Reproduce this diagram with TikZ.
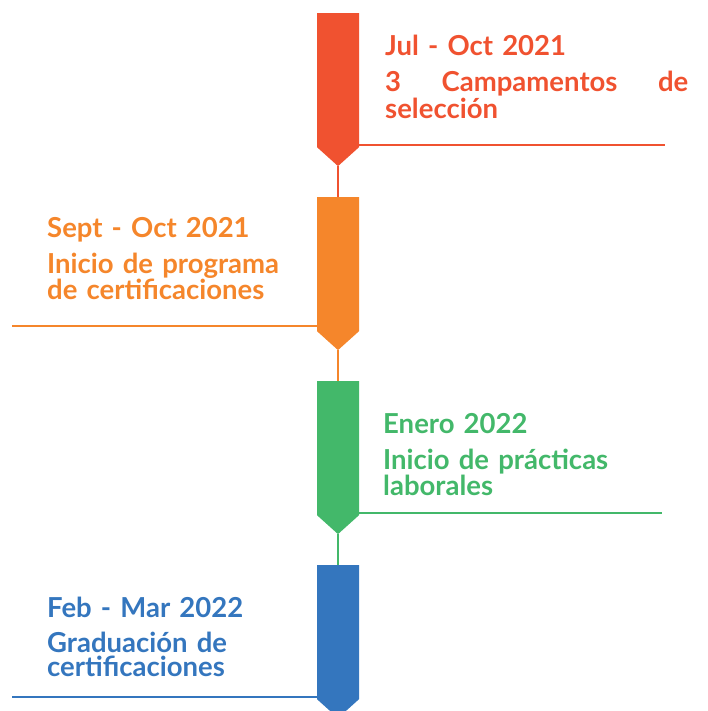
\documentclass[tikz,border=0pt]{standalone}
\usepackage{fontspec}
\setmainfont{Lato}
\usetikzlibrary{shapes.symbols}

\definecolor{tlred}{RGB}{240,82,48}
\definecolor{tlorange}{RGB}{245,134,43}
\definecolor{tlgreen}{RGB}{67,184,106}
\definecolor{tlblue}{RGB}{52,118,190}

\begin{document}
\begin{tikzpicture}[x=1pt, y=-1pt,
    block/.style={signal, signal to=south, signal pointer angle=96, draw=none,
                  minimum width=42pt, minimum height=134pt, inner sep=0pt, anchor=north},
    label/.style={anchor=base west, inner sep=0pt, font=\bfseries\fontsize{27.5}{24}\selectfont, align=left, text width=310pt},
    rule/.style={line width=2.6pt}]
    \useasboundingbox (0,0) rectangle (707,711);
    \clip (0,0) rectangle (707,711);

    \node[block, fill=tlred] (b1) at (338,13) {};
    \node[block, fill=tlorange] (b2) at (338,197) {};
    \node[block, fill=tlgreen] (b3) at (338,381) {};
    \node[block, fill=tlblue] (b4) at (338,565) {};

    \path[rule] (b1) edge[tlred] (b2)
                (b2) edge[tlorange] (b3)
                (b3) edge[tlgreen] (b4);

    \coordinate (e1) at (665,145);
    \coordinate (e2) at (12,326);
    \coordinate (e3) at (662,513);
    \coordinate (e4) at (12,697);
    \draw[rule, tlred] (e1 -| b1.east) -- (e1);
    \draw[rule, tlorange] (e2 -| b2.west) -- (e2);
    \draw[rule, tlgreen] (e3 -| b3.east) -- (e3);
    \draw[rule, tlblue] (e4 -| b4.west) -- (e4);

    \node[label, tlred] (d1) at (385,56) {Jul - Oct 2021};
    \node[label, tlred, text width=303pt] (t1) at (385,92) {3\hfill Campamentos\hfill de\\selección};
    \node[label, tlorange] (d2) at (47,237) {Sept - Oct 2021};
    \node[label, tlorange] (t2) at (47,273) {Inicio de programa\\de certificaciones};
    \node[label, tlgreen] (d3) at (383,433) {Enero 2022};
    \node[label, tlgreen] (t3) at (383,469) {Inicio de prácticas\\laborales};
    \node[label, tlblue] (d4) at (47,617) {Feb - Mar 2022};
    \node[label, tlblue] (t4) at (47,652) {Graduación de\\certificaciones};
\end{tikzpicture}
\end{document}
